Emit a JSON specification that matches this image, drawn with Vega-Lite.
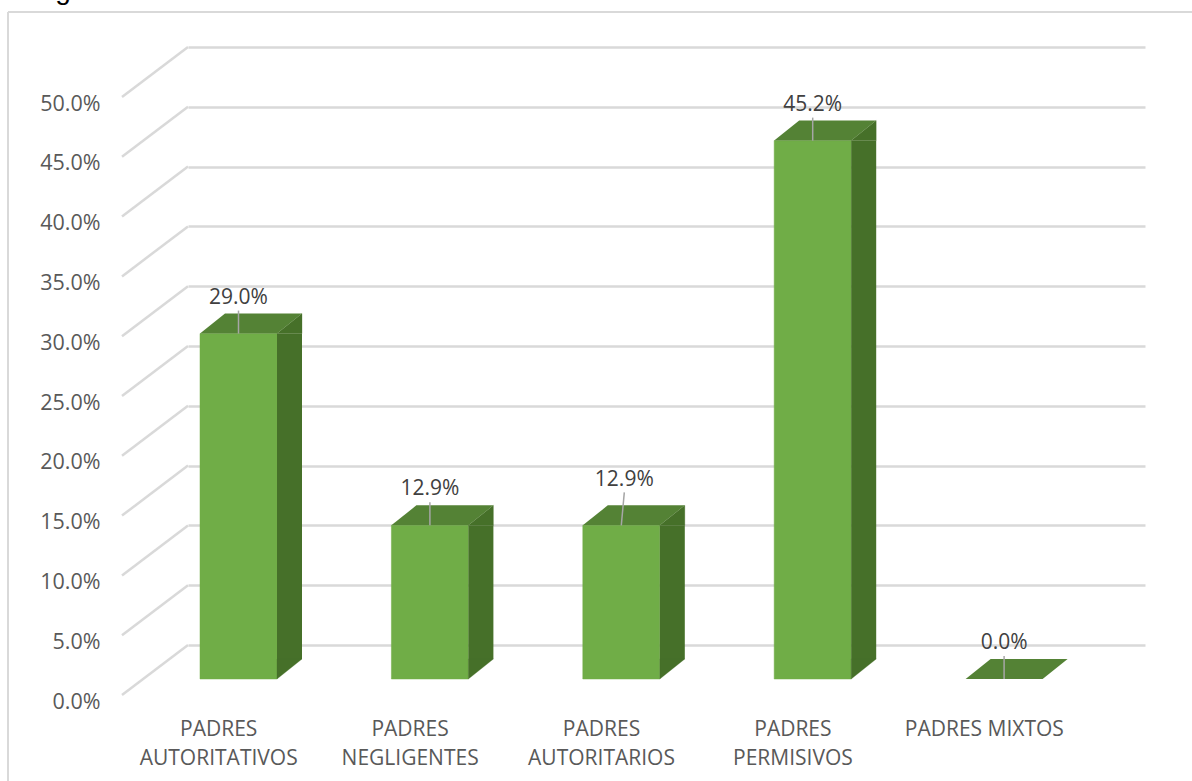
{
"$schema":"https://vega.github.io/schema/vega-lite/v6.json",
"width":957,"height":598,
"autosize":"none",
"padding":{"left":188,"top":47,"right":47,"bottom":136},
"background":"white",
"config":{"view":{"stroke":null},"text":{"font":"Open Sans"},
 "axisX":{"title":null,"domain":false,"ticks":false,"grid":false,"labelAngle":0,"labelOffset":-65,"labelPadding":73,"labelFont":"Open Sans","labelFontSize":21,"labelColor":"#595959","labelLineHeight":29,"labelBaseline":"top","labelOverlap":false,"labelExpr":"datum.value=='PADRES MIXTOS'?datum.value:split(datum.value,' ')"}},
"datasets":{
"bars":[
{"estilo":"PADRES AUTORITATIVOS","pct":0.29},
{"estilo":"PADRES NEGLIGENTES","pct":0.129},
{"estilo":"PADRES AUTORITARIOS","pct":0.129},
{"estilo":"PADRES PERMISIVOS","pct":0.452},
{"estilo":"PADRES MIXTOS","pct":0.0}
],
"ticks":[{"tick":0},{"tick":0.05},{"tick":0.1},{"tick":0.15},{"tick":0.2},{"tick":0.25},{"tick":0.3},{"tick":0.35},{"tick":0.4},{"tick":0.45},{"tick":0.5}]
},
"encoding":{"x":{"field":"estilo","type":"nominal","axis":{"title":null},"scale":{"type":"band","paddingInner":0,"paddingOuter":0,"domain":["PADRES AUTORITATIVOS","PADRES NEGLIGENTES","PADRES AUTORITARIOS","PADRES PERMISIVOS","PADRES MIXTOS"]}}},
"resolve":{"scale":{"y":"independent"},"axis":{"y":"independent"}},
"layer":[
{"data":{"name":"ticks"},
 "mark":{"type":"point","shape":"M-95.7 0L-161.7 50","filled":false,"stroke":"#d9d9d9","strokeWidth":2.5,"size":4,"opacity":1},
 "encoding":{
  "x":{"datum":"PADRES AUTORITATIVOS","type":"nominal","axis":{"title":null}},
  "y":{"field":"tick","type":"quantitative","scale":{"domain":[0,0.5],"nice":false,"zero":false},
   "axis":{"title":null,"values":[0,0.05,0.1,0.15,0.2,0.25,0.3,0.35,0.4,0.45,0.5],"format":".1%","domain":false,"ticks":false,"offset":88,"labelPadding":0,"labelOffset":57,"labelFont":"Open Sans","labelFontSize":21.5,"labelColor":"#595959","grid":true,"gridColor":"#d9d9d9","gridWidth":2.5,"gridOpacity":1}}
 }},
{"data":{"name":"bars"},
 "layer":[
 {"mark":{"type":"bar","width":77,"xOffset":-45.2,"color":"#70ad47","stroke":"#70ad47","strokeWidth":0.5},
  "encoding":{"y":{"field":"pct","type":"quantitative","axis":null,"scale":{"domain":[0.02855,0.5306],"nice":false,"zero":false}},"y2":{"datum":0}},
  "transform":[{"filter":"datum.pct>0"}]},
 {"mark":{"type":"bar","width":25,"xOffset":5.8,"color":"#467029"},
  "encoding":{"y":{"field":"pct","type":"quantitative","axis":null,"scale":{"domain":[0.02855,0.5306],"nice":false,"zero":false}},"y2":{"datum":0.0168}},
  "transform":[{"filter":"datum.pct>0"}]},
 {"mark":{"type":"point","shape":"M-6.7 0L18.3 -20L18.3 0Z","filled":true,"fill":"#467029","stroke":"#467029","strokeWidth":0.3,"size":4,"opacity":1},
  "encoding":{"y":{"field":"pct","type":"quantitative","axis":null,"scale":{"domain":[0.02855,0.5306],"nice":false,"zero":false}}},
  "transform":[{"filter":"datum.pct>0"}]},
 {"mark":{"type":"point","shape":"M-6.7 0L18.3 -20L-6.7 -20Z","filled":true,"fill":"#467029","stroke":"#467029","strokeWidth":0.3,"size":4,"opacity":1},
  "encoding":{"y":{"datum":0,"type":"quantitative","axis":null,"scale":{"domain":[0.02855,0.5306],"nice":false,"zero":false}}},
  "transform":[{"filter":"datum.pct>0"}]},
 {"mark":{"type":"point","shape":"M-83.7 0L-6.7 0L18.3 -20L-58.7 -20Z","filled":true,"fill":"#548235","size":4,"opacity":1},
  "encoding":{"y":{"field":"pct","type":"quantitative","axis":null,"scale":{"domain":[0.02855,0.5306],"nice":false,"zero":false}}}},
 {"mark":{"type":"point","shape":"M-45.2 0L-45.2 -23","filled":false,"stroke":"#a6a6a6","strokeWidth":1.5,"size":4,"opacity":1},
  "encoding":{"y":{"field":"pct","type":"quantitative","axis":null,"scale":{"domain":[0.02855,0.5306],"nice":false,"zero":false}}},
  "transform":[{"filter":"datum.estilo!='PADRES AUTORITARIOS'"}]},
 {"mark":{"type":"point","shape":"M-45.2 0L-42.2 -33","filled":false,"stroke":"#a6a6a6","strokeWidth":1.5,"size":4,"opacity":1},
  "encoding":{"y":{"field":"pct","type":"quantitative","axis":null,"scale":{"domain":[0.02855,0.5306],"nice":false,"zero":false}}},
  "transform":[{"filter":"datum.estilo=='PADRES AUTORITARIOS'"}]},
 {"mark":{"type":"text","xOffset":-45.2,"yOffset":-36,"fontSize":21,"color":"#404040","font":"Open Sans"},
  "encoding":{"y":{"field":"pct","type":"quantitative","axis":null,"scale":{"domain":[0.02855,0.5306],"nice":false,"zero":false}},"text":{"field":"pct","type":"quantitative","format":".1%"}},
  "transform":[{"filter":"datum.estilo!='PADRES AUTORITARIOS'"}]},
 {"mark":{"type":"text","xOffset":-42.2,"yOffset":-45,"fontSize":21,"color":"#404040","font":"Open Sans"},
  "encoding":{"y":{"field":"pct","type":"quantitative","axis":null,"scale":{"domain":[0.02855,0.5306],"nice":false,"zero":false}},"text":{"field":"pct","type":"quantitative","format":".1%"}},
  "transform":[{"filter":"datum.estilo=='PADRES AUTORITARIOS'"}]}
 ],
 "resolve":{"scale":{"y":"shared"}}
},
{"data":{"values":[{"tick":0}]},
 "mark":{"type":"point","shape":"M-275.7 -35L1000 -35M-275.7 -35L-275.7 740","filled":false,"stroke":"#d9d9d9","strokeWidth":2,"size":4,"opacity":1},
 "encoding":{"x":{"datum":"PADRES AUTORITATIVOS","type":"nominal","axis":{"title":null}},"y":{"datum":0.5,"type":"quantitative","axis":null,"scale":{"domain":[0,0.5],"nice":false,"zero":false}}}},
{"data":{"values":[{"titulo":"Figura 1: Familia funcional"}]},
 "mark":{"type":"text","align":"left","baseline":"alphabetic","xOffset":-251.7,"yOffset":-48,"fontSize":28,"font":"Liberation Sans","color":"#000000"},
 "encoding":{"x":{"datum":"PADRES AUTORITATIVOS","type":"nominal","axis":{"title":null}},"y":{"datum":0.5,"type":"quantitative","axis":null,"scale":{"domain":[0,0.5],"nice":false,"zero":false}},"text":{"field":"titulo","type":"nominal"}}}
]
}
